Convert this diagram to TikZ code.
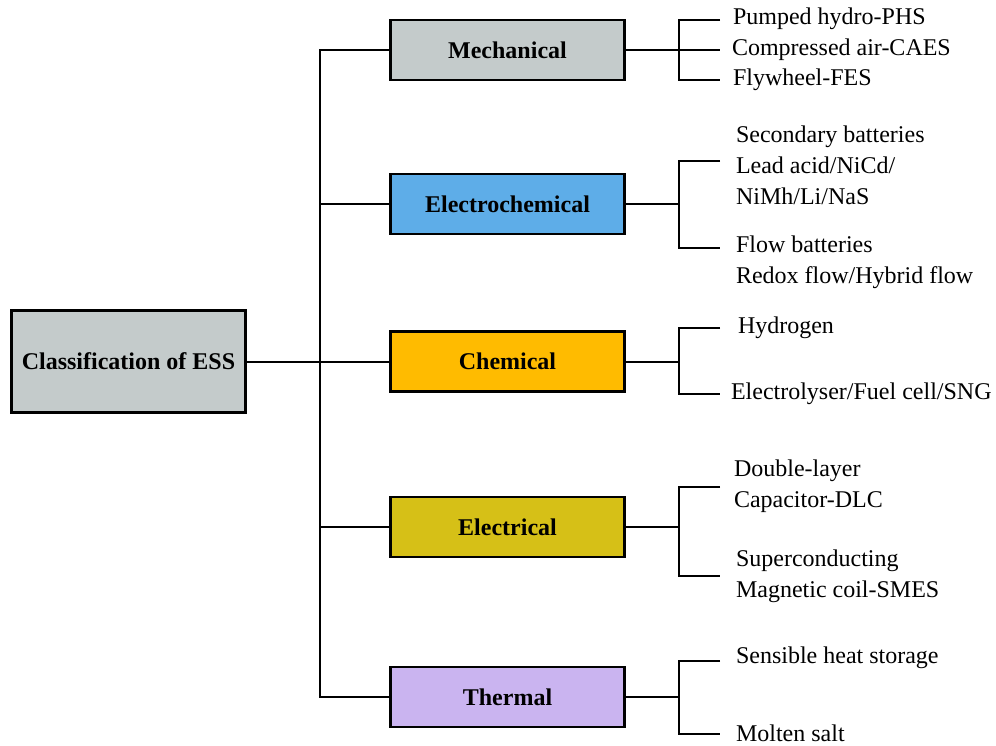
\documentclass[tikz,border=0pt]{standalone}
\usepackage{fontspec}
\setmainfont{Liberation Serif}
\usetikzlibrary{calc,positioning}

\definecolor{essgray}{RGB}{196,203,203}
\definecolor{essblue}{RGB}{94,173,232}
\definecolor{essamber}{RGB}{255,187,0}
\definecolor{essolive}{RGB}{214,192,23}
\definecolor{esslilac}{RGB}{202,180,240}

\begin{document}
\begin{tikzpicture}[x=0.5pt,y=-0.5pt,line width=1pt,
	box/.style={draw,line width=1.2pt,inner sep=0pt,
		minimum width=117pt,minimum height=30pt,
		font=\fontsize{12}{14}\selectfont\bfseries},
	leaf/.style={anchor=west,align=left,inner sep=0pt,
		font=\fontsize{12}{15.5}\selectfont}]
				\useasboundingbox (0,0) rectangle (996,745);
				
				% Root
				\node[box,fill=essgray,minimum height=51pt] (ess) at (128.5,361.5) {Classification of ESS};
				
				% Categories
				\node[box,fill=essgray] (mech) at (507.5,50) {Mechanical};
				\node[box,fill=essblue] (elchem) at (507.5,204) {Electrochemical};
				\node[box,fill=essamber] (chem) at (507.5,361.5) {Chemical};
				\node[box,fill=essolive] (elec) at (507.5,527) {Electrical};
				\node[box,fill=esslilac] (therm) at (507.5,697) {Thermal};
				
				% Trunk
				\coordinate (trunk) at (320,361.5);
				\draw (mech.west) -| (trunk) |- (therm.west);
				\draw (ess) -- (chem);
				\foreach \cat in {elchem,elec}
				\draw (trunk |- \cat) -- (\cat);
				
				% Leaves
				\node[leaf] (pumped) at (732,19) {Pumped hydro-PHS};
				\node[leaf] (caes) at (731,50) {Compressed air-CAES};
				\node[leaf] (fes) at (732,80) {Flywheel-FES};
				\node[leaf] (secbat) at (735,165) {Secondary batteries\\Lead acid/NiCd/\\NiMh/Li/NaS};
				\node[leaf] (flowbat) at (735,262) {Flow batteries\\Redox flow/Hybrid flow};
				\node[leaf] (hydro) at (737,328) {Hydrogen};
				\node[leaf] (fuel) at (730,394) {Electrolyser/Fuel cell/SNG};
				\node[leaf] (dlc) at (733,486) {Double-layer\\Capacitor-DLC};
				\node[leaf] (smes) at (735,576) {Superconducting\\Magnetic coil-SMES};
				\node[leaf] (heat) at (735,658) {Sensible heat storage};
				\node[leaf] (salt) at (735,733) {Molten salt};
				
				% Bracket ends
				\coordinate (m1) at (720,20);
				\coordinate (m2) at (720,50);
				\coordinate (m3) at (720,80);
				\coordinate (e1) at (720,161);
				\coordinate (e2) at (720,248);
				\coordinate (c1) at (720,328);
				\coordinate (c2) at (720,394);
				\coordinate (d1) at (720,487);
				\coordinate (d2) at (720,576);
				\coordinate (t1) at (720,661);
				\coordinate (t2) at (720,734);
				
				% Brackets
				\coordinate (bm) at (679,50);
				\coordinate (be) at (679,204);
				\coordinate (bc) at (679,361.5);
				\coordinate (bd) at (679,527);
				\coordinate (bt) at (679,697);
				\draw (m1) -| (bm) |- (m3);
				\draw (mech) -- (m2);
				\draw (e1) -| (be) |- (e2);
				\draw (elchem) -- (be);
				\draw (c1) -| (bc) |- (c2);
				\draw (chem) -- (bc);
				\draw (d1) -| (bd) |- (d2);
				\draw (elec) -- (bd);
				\draw (t1) -| (bt) |- (t2);
				\draw (therm) -- (bt);
			\end{tikzpicture}
\end{document}
